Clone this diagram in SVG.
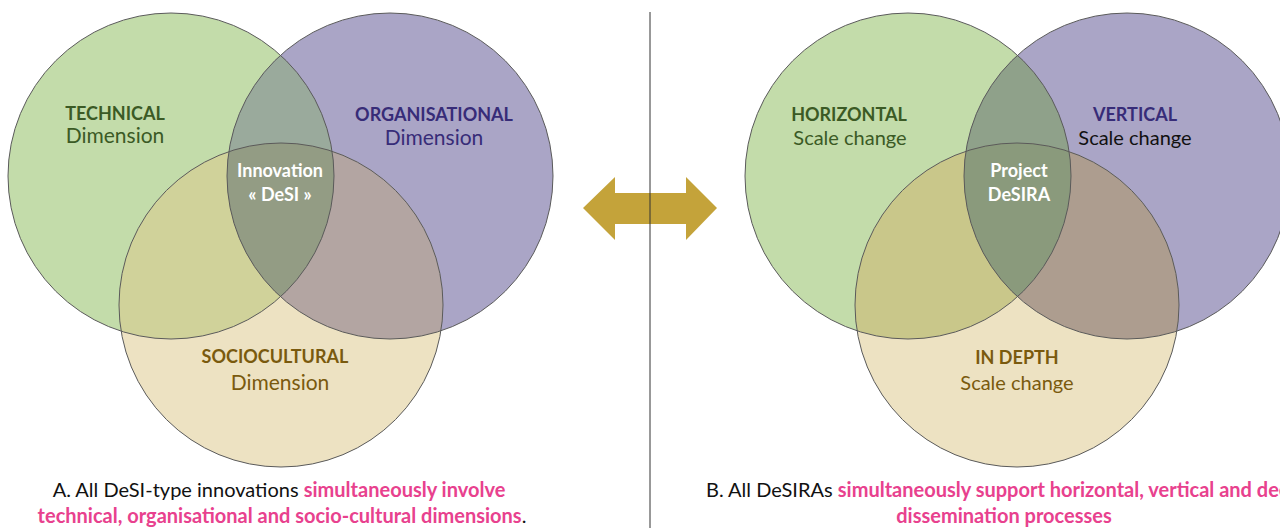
<svg xmlns="http://www.w3.org/2000/svg" width="1280" height="528" viewBox="0 0 1280 528">
<style>
.ol{fill:none;stroke:#5a5a5a;stroke-width:1}
.t{font-family:Lato,"Noto Sans","Liberation Sans",sans-serif;text-anchor:middle}
.b{font-weight:bold;font-size:18px}
.r{font-size:21px}
.s{font-size:20px}
.w{fill:#ffffff;font-weight:bold;font-size:18px}
.gr{fill:#3b5a25}
.pu{fill:#372c78}
.go{fill:#7a5a0e}
.cap{font-family:Lato,"Noto Sans","Liberation Sans",sans-serif;font-size:20px;fill:#111}
.pk{fill:#e8418e;font-weight:bold}
</style>
<defs>
<clipPath id="cG1"><circle cx="171" cy="176" r="163"/></clipPath>
<clipPath id="cP1"><circle cx="390" cy="176" r="163"/></clipPath>
<clipPath id="cG2"><circle cx="908" cy="176" r="163"/></clipPath>
<clipPath id="cP2"><circle cx="1127" cy="176" r="163"/></clipPath>
</defs>
<rect width="1280" height="528" fill="#ffffff"/>

<g id="venn-a">
<g id="technical"><circle cx="171" cy="176" r="163" fill="#c3dcaa"/>
<text class="t b gr" x="115" y="120">TECHNICAL</text><text class="t r gr" x="115" y="143">Dimension</text></g>
<g id="organisational"><circle cx="390" cy="176" r="163" fill="#aaa5c6"/>
<text class="t b pu" x="434" y="121">ORGANISATIONAL</text><text class="t r pu" x="434" y="145">Dimension</text></g>
<g id="sociocultural"><circle cx="281" cy="305" r="162" fill="#ede2c2"/>
<text class="t b go" x="275" y="363">SOCIOCULTURAL</text><text class="t r go" x="280" y="390">Dimension</text></g>
<g id="overlaps-a">
<circle cx="390" cy="176" r="163" fill="#9aaa9c" clip-path="url(#cG1)"/>
<circle cx="281" cy="305" r="162" fill="#d0d29a" clip-path="url(#cG1)"/>
<circle cx="281" cy="305" r="162" fill="#b3a5a2" clip-path="url(#cP1)"/>
<g clip-path="url(#cG1)"><circle cx="281" cy="305" r="162" fill="#939c84" clip-path="url(#cP1)"/></g>
</g>
<g id="outlines-a">
<circle class="ol" cx="171" cy="176" r="163"/>
<circle class="ol" cx="390" cy="176" r="163"/>
<circle class="ol" cx="281" cy="305" r="162"/>
</g>
<g id="innovation-desi"><text class="t w" x="280" y="177">Innovation</text><text class="t w" x="280" y="201">« DeSI »</text></g>
</g>

<g id="venn-b">
<g id="horizontal"><circle cx="908" cy="176" r="163" fill="#c3dcaa"/>
<text class="t b gr" x="849" y="121">HORIZONTAL</text><text class="t s gr" x="850" y="145">Scale change</text></g>
<g id="vertical"><circle cx="1127" cy="176" r="163" fill="#aaa5c6"/>
<text class="t b pu" x="1135" y="121">VERTICAL</text><text class="t s" fill="#111" x="1135" y="145">Scale change</text></g>
<g id="in-depth"><circle cx="1017" cy="305" r="162" fill="#ede2c2"/>
<text class="t b go" x="1017" y="364">IN DEPTH</text><text class="t s go" x="1017" y="390">Scale change</text></g>
<g id="overlaps-b">
<circle cx="1127" cy="176" r="163" fill="#8fa18a" clip-path="url(#cG2)"/>
<circle cx="1017" cy="305" r="162" fill="#c9c78a" clip-path="url(#cG2)"/>
<circle cx="1017" cy="305" r="162" fill="#ad9d8f" clip-path="url(#cP2)"/>
<g clip-path="url(#cG2)"><circle cx="1017" cy="305" r="162" fill="#8a9a7c" clip-path="url(#cP2)"/></g>
</g>
<g id="outlines-b">
<circle class="ol" cx="908" cy="176" r="163"/>
<circle class="ol" cx="1127" cy="176" r="163"/>
<circle class="ol" cx="1017" cy="305" r="162"/>
</g>
<g id="project-desira"><text class="t w" x="1019" y="177">Project</text><text class="t w" x="1019" y="201">DeSIRA</text></g>
</g>

<g id="connectors">
<polygon points="583,208 615,177 615,193 686,193 686,177 717,208 686,240 686,224 615,224 615,240" fill="#c4a33a"/>
<line x1="650" y1="12" x2="650" y2="528" stroke="#333" stroke-width="1"/>
</g>

<g id="captions">
<text class="cap" x="279" y="497" text-anchor="middle">A. All DeSI-type innovations <tspan class="pk">simultaneously involve</tspan></text>
<text class="cap" x="282" y="523" text-anchor="middle"><tspan class="pk">technical, organisational and socio-cultural dimensions</tspan>.</text>
<text class="cap" x="706" y="497">B. All DeSIRAs <tspan class="pk">simultaneously support horizontal, vertical and deep</tspan></text>
<text class="cap pk" x="1004" y="523" text-anchor="middle">dissemination processes</text>
</g>
</svg>
